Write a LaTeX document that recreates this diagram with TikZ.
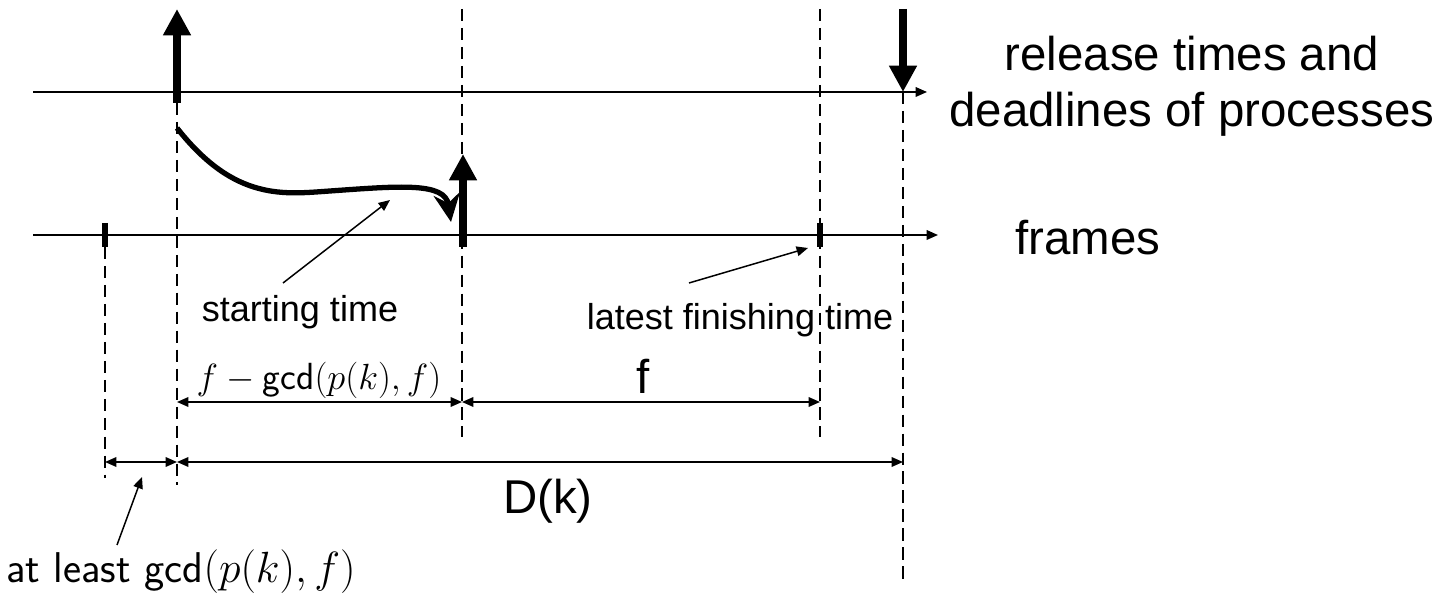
\documentclass[tikz,border=0pt]{standalone}
\usepackage[no-math]{fontspec}
\setmainfont{Liberation Sans}
\usetikzlibrary{arrows.meta}
\tikzset{
  axis/.style={line width=0.85pt,-{Triangle[length=6.5pt,width=5.5pt]}},
  guide/.style={line width=0.95pt,dash pattern=on 7pt off 3.8pt},
  release/.style={line width=4pt,-{Triangle[length=15pt,width=15pt]}},
  framemark/.style={line width=3.5pt},
  span/.style={line width=0.85pt,{Triangle[length=6.5pt,width=5.5pt]}-{Triangle[length=6.5pt,width=5.5pt]}},
  pointer/.style={line width=0.85pt,-{Triangle[length=6.5pt,width=5.5pt]}},
  biglabel/.style={font=\fontsize{27}{32}\selectfont},
  smalllabel/.style={font=\fontsize{20.5}{24}\selectfont},
  mathlabel/.style={font=\fontsize{21.5}{26}\selectfont},
}
\begin{document}
\begin{tikzpicture}[x=0.02cm,y=-0.02cm]
	\useasboundingbox (0,0) rectangle (1455,594);
	% time axes
	\coordinate (relA) at (33,92);	\coordinate (relB) at (927,92);
	\coordinate (frmA) at (33,235);	\coordinate (frmB) at (938,235);
	\draw[axis] (relA) -- (relB);
	\draw[axis] (frmA) -- (frmB);
	% dashed guides
	\draw[guide] (105,247) -- (105,478);
	\draw[guide] (177,103) -- (177,485);
	\draw[guide] (462,9) -- (462,437);
	\draw[guide] (820,9) -- (820,437);
	\draw[guide] (903,92) -- (903,580);
	% release and deadline
	\draw[release] (177,103) -- (177,9);
	\draw[release] (903,9) -- (903,92);
	\draw[release] (463,247) -- (463,154);
	% frame marks
	\draw[framemark] (105,223) -- (105,247);
	\draw[framemark] (820,223) -- (820,247);
	% start delay
	\coordinate (curveA) at (177,128);
	\coordinate (curveB) at (451,222);
	\draw[line width=3pt,-{Stealth[length=16pt,width=15pt]}] (curveA)
		.. controls (235,202) and (285,194) .. (330,191)
		.. controls (400,186) and (445,182) .. (curveB);
	% labels on the right
	\node[biglabel,align=center] (rel) at (1192,86) {release times and\\deadlines of processes};
	\node[biglabel,anchor=base] (frm) at (1088,255) {frames};
	% starting and finishing time
	\node[smalllabel,anchor=base] (start) at (300,322) {starting time};
	\node[smalllabel,anchor=base] (latest) at (740,330) {latest finishing time};
	\coordinate (startTip) at (390,200);
	\coordinate (latestTip) at (808,248);
	\draw[pointer] (283,283) -- (startTip);
	\draw[pointer] (689,283) -- (latestTip);
	% intervals
	\draw[span] (177,402) -- (462,402);
	\draw[span] (462,402) -- (820,402);
	\draw[span] (105,462) -- (177,462);
	\draw[span] (177,462) -- (903,462);
	\node[mathlabel,anchor=base] (fgcd) at (319,390) {$f-\textsf{gcd}(p(k),f)$};
	\node[biglabel,anchor=base] (f) at (643,394) {f};
	\node[biglabel,anchor=base] (D) at (548,514) {D(k)};
	\node[anchor=base west,inner sep=0pt,font=\fontsize{24.5}{28}\selectfont\sffamily] (least) at (6,583) {at least gcd$(p(k),f)$};
	\draw[pointer] (117,545) -- (142,477);
\end{tikzpicture}
\end{document}
